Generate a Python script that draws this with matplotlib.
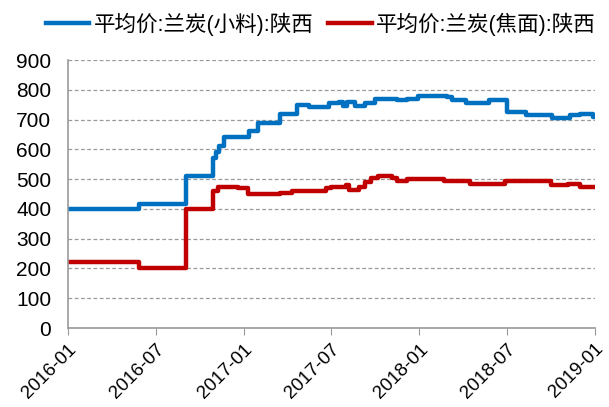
import matplotlib
matplotlib.use("Agg")
import matplotlib.pyplot as plt
import pandas as pd

plt.rcParams['font.family'] = ['Liberation Sans', 'Noto Sans CJK SC', 'DejaVu Sans']

series_names = ['平均价:兰炭(小料):陕西', '平均价:兰炭(焦面):陕西']
colors = ['#0070C0', '#C00000']

# change points (date, value) for each series
blue_dates = ['2016-01-01', '2016-05-27', '2016-09-02', '2016-10-28', '2016-11-04',
              '2016-11-11', '2016-11-21', '2017-01-12', '2017-01-31', '2017-03-17',
              '2017-04-22', '2017-05-16', '2017-06-27', '2017-07-18', '2017-07-25',
              '2017-08-04', '2017-08-19', '2017-09-09', '2017-10-01', '2017-11-15',
              '2017-12-06', '2017-12-28', '2018-02-27', '2018-03-09', '2018-04-08',
              '2018-05-25', '2018-07-01', '2018-08-11', '2018-10-04', '2018-11-10',
              '2018-12-01', '2018-12-28', '2018-12-31']
blue_vals = [400, 415, 510, 570, 590,
             610, 640, 660, 690, 720,
             750, 742, 755, 760, 745,
             758, 745, 755, 770, 765,
             770, 780, 775, 765, 755,
             765, 725, 715, 705, 715,
             720, 710, 710]

red_dates = ['2016-01-01', '2016-05-27', '2016-09-02', '2016-10-28', '2016-11-08',
             '2016-12-20', '2017-01-10', '2017-03-17', '2017-04-10', '2017-06-20',
             '2017-07-01', '2017-08-01', '2017-08-08', '2017-08-29', '2017-09-09',
             '2017-09-22', '2017-10-07', '2017-11-05', '2017-11-15', '2017-12-06',
             '2018-01-03', '2018-02-20', '2018-04-15', '2018-06-27', '2018-10-01',
             '2018-11-05', '2018-12-01', '2018-12-31']
red_vals = [220, 200, 400, 460, 475,
            470, 450, 455, 460, 470,
            475, 480, 465, 475, 490,
            505, 510, 505, 495, 500,
            500, 495, 485, 495, 480,
            485, 475, 475]

x_ticks = ['2016-01', '2016-07', '2017-01', '2017-07', '2018-01', '2018-07', '2019-01']
y_ticks = [0, 100, 200, 300, 400, 500, 600, 700, 800, 900]

fig = plt.figure(figsize=(6.09, 4.07), dpi=100)
ax = fig.add_axes([68/609, 1-328/407, (595-68)/609, (328-60)/407])

for d, v, c, n in [(blue_dates, blue_vals, colors[0], series_names[0]),
                   (red_dates, red_vals, colors[1], series_names[1])]:
    ax.plot(pd.to_datetime(d), v, color=c, lw=3.2, drawstyle='steps-post', label=n,
            solid_joinstyle='round')

ax.set_ylim(0, 900)
ax.set_yticks(y_ticks)
ax.set_xlim(pd.Timestamp('2016-01-01'), pd.Timestamp('2019-01-01'))
ax.set_xticks(pd.to_datetime([t + '-01' for t in x_ticks]))
ax.set_xticklabels(x_ticks, rotation=45, ha='right', rotation_mode='anchor', fontsize=13.5)
ax.tick_params(axis='y', length=0, labelsize=15, pad=12)
ax.tick_params(axis='x', length=5, color='#999999', pad=4)
for s in ['top', 'right']:
    ax.spines[s].set_visible(False)
for s in ['left', 'bottom']:
    ax.spines[s].set_color('#999999')
    ax.spines[s].set_linewidth(1.2)
ax.yaxis.grid(True, linestyle=(0, (3, 2)), color='#999999', lw=0.9)
ax.set_axisbelow(True)

leg = fig.legend(loc='center', bbox_to_anchor=(0.527, 1-24/407), ncol=2, frameon=False,
                 fontsize=15.5, handlelength=2.0, handletextpad=0.2, columnspacing=0.7,
                 borderaxespad=0)

fig.savefig('out.png', dpi=100)
